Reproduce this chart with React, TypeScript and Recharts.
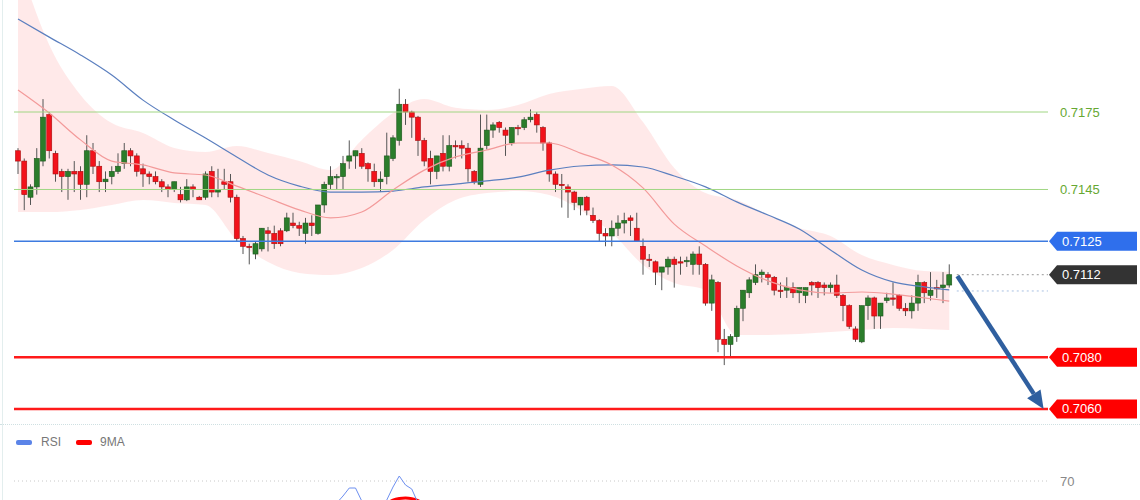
import React from "react";
import { ComposedChart, Bar, Line, Area, XAxis, YAxis, ReferenceLine } from "recharts";

// candles, oldest first
const opens = [
  0.7160, 0.7156, 0.7142, 0.7146, 0.7156, 0.7174, 0.7159, 0.7152, 0.7150, 0.7152,
  0.7152, 0.7147, 0.7160, 0.7154, 0.7148, 0.7150, 0.7152, 0.7155, 0.7160, 0.7158,
  0.7153, 0.7151, 0.7150, 0.7148, 0.7146, 0.7145, 0.7143, 0.7141, 0.7146, 0.7142,
  0.7142, 0.7152, 0.7144, 0.7148, 0.7148, 0.7142, 0.7126, 0.7123, 0.7120, 0.7122,
  0.7129, 0.7128, 0.7129, 0.7129, 0.7132, 0.7131, 0.7128, 0.7132, 0.7128, 0.7139,
  0.7147, 0.71495, 0.7150, 0.7156, 0.7158, 0.7159, 0.7155, 0.7152, 0.7148, 0.7150,
  0.7157, 0.7164, 0.7178, 0.7175, 0.7173, 0.7164, 0.7157, 0.7152, 0.7159, 0.7154,
  0.7162, 0.7162, 0.7161, 0.7152, 0.7147, 0.7162, 0.7168, 0.7171, 0.7168, 0.7163,
  0.7169, 0.7169, 0.7172, 0.7174, 0.7169, 0.7163, 0.7151, 0.7147, 0.7146, 0.7144,
  0.7139, 0.7142, 0.7135, 0.7133, 0.7128, 0.7127, 0.7130, 0.7132, 0.7134, 0.7130,
  0.7123, 0.7118, 0.7117, 0.7113, 0.7115, 0.7118, 0.7117, 0.7117, 0.7116, 0.7120,
  0.7116, 0.7101, 0.7109, 0.7087, 0.7085, 0.7088, 0.7099, 0.7105, 0.7109, 0.7112,
  0.7112, 0.7111, 0.7106, 0.7106, 0.7107, 0.7105, 0.7104, 0.7109, 0.7109, 0.7108,
  0.7107, 0.7108, 0.7104, 0.7100, 0.7091, 0.7086, 0.7100, 0.7103, 0.7096, 0.7102,
  0.7103, 0.7104, 0.7099, 0.7098, 0.7101, 0.7109, 0.7104, 0.7107, 0.7107, 0.7108,
];
const highs = [
  0.7161, 0.7157, 0.7147, 0.7161, 0.7180, 0.7175, 0.7160, 0.7153, 0.7153, 0.7156,
  0.7154, 0.7166, 0.7163, 0.7156, 0.7152, 0.7154, 0.7159, 0.7163, 0.7161, 0.7159,
  0.7155, 0.7152, 0.7152, 0.7149, 0.7147, 0.7148, 0.7146, 0.7149, 0.7147, 0.71425,
  0.7152, 0.7154, 0.7153, 0.7153, 0.7151, 0.7143, 0.7127, 0.7124, 0.7125, 0.7130,
  0.71305, 0.7131, 0.7130, 0.7136, 0.7136, 0.71325, 0.7134, 0.7135, 0.7139, 0.7148,
  0.7154, 0.7151, 0.7158, 0.7164, 0.7160, 0.7161, 0.71555, 0.7155, 0.7152, 0.7167,
  0.7166, 0.7184, 0.7180, 0.71755, 0.71735, 0.7165, 0.7160, 0.7158, 0.7166, 0.7166,
  0.7164, 0.7164, 0.7163, 0.71525, 0.7174, 0.7174, 0.7171, 0.71715, 0.7169, 0.7169,
  0.7170, 0.7173, 0.7176, 0.7175, 0.71695, 0.71635, 0.7152, 0.7151, 0.7147, 0.71445,
  0.7142, 0.71425, 0.7138, 0.71335, 0.7130, 0.7133, 0.7135, 0.7136, 0.7135, 0.7136,
  0.7126, 0.7120, 0.71175, 0.7115, 0.7119, 0.7119, 0.7119, 0.7119, 0.7121, 0.7123,
  0.71165, 0.7112, 0.71095, 0.7091, 0.7089, 0.7100, 0.7106, 0.7111, 0.7116, 0.7114,
  0.7113, 0.71115, 0.7109, 0.7111, 0.7109, 0.7107, 0.7107, 0.71095, 0.71095, 0.7109,
  0.7109, 0.7112, 0.71045, 0.71005, 0.7092, 0.7100, 0.7104, 0.71035, 0.7101, 0.7105,
  0.7109, 0.71045, 0.7101, 0.7104, 0.7112, 0.71095, 0.7113, 0.7110, 0.7113, 0.7116,
];
const lows = [
  0.7151, 0.7137, 0.7139, 0.7143, 0.7154, 0.7157, 0.7148, 0.7144, 0.7141, 0.7144,
  0.7141, 0.7142, 0.7151, 0.7144, 0.7144, 0.7147, 0.7151, 0.7153, 0.7154, 0.7150,
  0.7146, 0.7147, 0.7147, 0.7144, 0.7142, 0.7144, 0.7140, 0.71405, 0.7142, 0.7141,
  0.7141, 0.7142, 0.7142, 0.7145, 0.7140, 0.7125, 0.7120, 0.7116, 0.7118, 0.7121,
  0.7121, 0.7122, 0.7123, 0.71285, 0.7130, 0.7127, 0.7124, 0.7127, 0.71275, 0.7136,
  0.7145, 0.7145, 0.7145, 0.7153, 0.7153, 0.7153, 0.7148, 0.7146, 0.7144, 0.7147,
  0.7156, 0.7162, 0.7170, 0.7165, 0.7158, 0.7154, 0.7147, 0.7149, 0.7152, 0.7152,
  0.7157, 0.7157, 0.7148, 0.7147, 0.7146, 0.71605, 0.7165, 0.7167, 0.7158, 0.7162,
  0.7166, 0.7168, 0.7171, 0.7167, 0.7160, 0.7148, 0.7144, 0.7138, 0.7134, 0.7137,
  0.7135, 0.7135, 0.7132, 0.7125, 0.7123, 0.7123, 0.7127, 0.7128, 0.7127, 0.7125,
  0.7112, 0.7115, 0.7108, 0.7106, 0.7112, 0.7107, 0.7112, 0.7115, 0.7112, 0.7112,
  0.7100, 0.7098, 0.7082, 0.7077, 0.7080, 0.7086, 0.7094, 0.7103, 0.7108, 0.7109,
  0.7108, 0.7104, 0.7103, 0.7103, 0.7103, 0.7101, 0.7101, 0.7104, 0.7103, 0.7104,
  0.7105, 0.7103, 0.7094, 0.7091, 0.7086, 0.70855, 0.70945, 0.7091, 0.7091, 0.7101,
  0.7100, 0.7098, 0.7096, 0.7095, 0.7098, 0.7101, 0.7102, 0.7103, 0.7101, 0.7107,
];
const closes = [
  0.7156, 0.7143, 0.7146, 0.7157, 0.7173, 0.7160, 0.7151, 0.7150, 0.7152, 0.7151,
  0.7147, 0.7160, 0.7154, 0.7148, 0.7149, 0.7152, 0.7154, 0.7160, 0.7158, 0.7152,
  0.7151, 0.7150, 0.7148, 0.7146, 0.7145, 0.7148, 0.7141, 0.7146, 0.7145, 0.7141,
  0.7151, 0.7144, 0.7145, 0.7147, 0.7142, 0.7126, 0.7123, 0.71225, 0.7124, 0.7130,
  0.7128, 0.7124, 0.7124, 0.7134, 0.7131, 0.7130, 0.7132, 0.7131, 0.7139, 0.7147,
  0.7150, 0.7150, 0.7155, 0.7158, 0.7160, 0.7154, 0.7153, 0.7148, 0.7149, 0.7158,
  0.7165, 0.7178, 0.7175, 0.7173, 0.7164, 0.7156, 0.7152, 0.7158, 0.7154, 0.7162,
  0.71615, 0.7161, 0.7153, 0.7148, 0.7161, 0.7168, 0.7170, 0.7169, 0.7166, 0.7169,
  0.71685, 0.7172, 0.7173, 0.7170, 0.7163, 0.7151, 0.7147, 0.71465, 0.7144, 0.7140,
  0.7142, 0.7137, 0.7133, 0.7128, 0.7127, 0.7130, 0.7132, 0.7133, 0.7133, 0.7125,
  0.7118, 0.71175, 0.7113, 0.7115, 0.7118, 0.7116, 0.71165, 0.71175, 0.7120, 0.7116,
  0.7101, 0.7110, 0.7087, 0.7085, 0.7088, 0.7099, 0.7106, 0.7110, 0.7112, 0.7113,
  0.7111, 0.7106, 0.71055, 0.7107, 0.7105, 0.7107, 0.7107, 0.7108, 0.7107, 0.7107,
  0.7108, 0.7104, 0.7100, 0.7092, 0.7087, 0.7100, 0.7103, 0.7096, 0.7101, 0.7103,
  0.71025, 0.7099, 0.7098, 0.7101, 0.7109, 0.7105, 0.7106, 0.71065, 0.7108, 0.7112,
];

// indicator readings, taken every 5 candles
const sampleIdx = [0, 5, 10, 15, 20, 25, 30, 35, 40, 45, 50, 55, 60, 65, 70, 75, 80, 85, 90, 95, 100, 105, 110, 115, 120, 125, 130, 135, 140, 145, 149];
const maSlow = [0.7211, 0.7204, 0.71971, 0.71893, 0.71796, 0.71719, 0.71649, 0.71576, 0.71506, 0.71463, 0.7144, 0.7144, 0.71444, 0.7146, 0.71471, 0.71483, 0.71498, 0.71525, 0.71541, 0.71545, 0.71537, 0.71502, 0.7146, 0.71402, 0.71351, 0.71297, 0.71216, 0.71138, 0.71092, 0.71073, 0.71061];
const maFast = [0.71835, 0.71746, 0.71642, 0.7156, 0.71545, 0.71514, 0.71506, 0.71463, 0.71417, 0.71371, 0.7134, 0.71363, 0.71448, 0.71525, 0.71576, 0.71603, 0.7163, 0.7163, 0.71591, 0.71545, 0.71456, 0.71316, 0.71231, 0.71154, 0.71096, 0.71061, 0.71049, 0.71053, 0.71045, 0.7103, 0.71018];
const bandUpper = [0.72339, 0.72009, 0.71816, 0.71707, 0.71669, 0.71611, 0.71595, 0.71618, 0.71591, 0.7156, 0.71525, 0.71642, 0.71746, 0.718, 0.71766, 0.71758, 0.71777, 0.7182, 0.71839, 0.71851, 0.71711, 0.71533, 0.71436, 0.71409, 0.71351, 0.71301, 0.7127, 0.71196, 0.71158, 0.71134, 0.71131];
const bandLower = [0.71363, 0.71363, 0.71371, 0.7139, 0.71409, 0.71398, 0.7139, 0.71254, 0.71169, 0.71127, 0.71119, 0.71146, 0.71216, 0.71332, 0.71409, 0.71436, 0.71444, 0.71429, 0.71371, 0.71282, 0.71158, 0.71088, 0.71061, 0.70887, 0.70887, 0.7089, 0.70898, 0.70906, 0.70914, 0.7091, 0.70906];

// lower panel (only the top of it is in view)
const rsiIdx = [49, 50, 51, 52, 53, 54, 55, 56, 57, 58, 59, 60, 61, 62, 63, 64, 65, 66];
const rsiVals = [52, 55, 59, 62.5, 66.5, 66.5, 60, 55, 52, 55, 60.5, 67, 72.5, 68, 66, 59, 54, 50];
const rsiMa = [null, null, null, null, null, null, null, null, 54, 56, 58.5, 60.5, 61.3, 61.5, 61.2, 60.2, 58.5, 56];

const levels = { r1: 0.7175, r2: 0.7145, pivot: 0.7125, last: 0.7112, s1: 0.708, s2: 0.706 };
const maLast = 0.71057;

const rows: any[] = opens.map((o, i) => ({
  i, o, h: highs[i], l: lows[i], c: closes[i], range: [lows[i], highs[i]],
}));
sampleIdx.forEach((k, j) => {
  rows[k].ms = maSlow[j];
  rows[k].mf = maFast[j];
  rows[k].band = [bandLower[j], bandUpper[j]];
});
const rsiRows = rsiIdx.map((k, j) => ({ i: k, rsi: rsiVals[j], ma: rsiMa[j] }));

const font = "'Liberation Sans', Arial, sans-serif";
const xDomain = [-0.64, 164.8];

const Candle = (props: any) => {
  const { x, y, width, height, payload } = props;
  if (!payload) return null;
  const { o, c, h, l } = payload;
  const top = Math.min(y, y + height);
  const hh = Math.abs(height);
  const k = hh / (h - l);
  const cx = x + width / 2;
  const b1 = top + (h - Math.max(o, c)) * k;
  const b2 = top + (h - Math.min(o, c)) * k;
  const up = c >= o;
  return (
    <g>
      <line x1={cx} x2={cx} y1={top} y2={top + hh} stroke="#555" strokeWidth={1} />
      <rect x={cx - 2.5} y={b1} width={5} height={Math.max(1, b2 - b1)}
        fill={up ? "#2b7d2b" : "#f2121b"} stroke={up ? "#1c561c" : "#a80d0d"} strokeWidth={0.6} />
    </g>
  );
};

const Tag = (props: any) => {
  const { viewBox, text, fill } = props;
  if (!viewBox) return null;
  const x0 = viewBox.x + viewBox.width;
  const y = viewBox.y;
  const pts = `${x0 + 1},${y} ${x0 + 9},${y - 9.5} 1137,${y - 9.5} 1137,${y + 9.5} ${x0 + 9},${y + 9.5}`;
  return (
    <g>
      <polygon points={pts} fill={fill} />
      <text x={x0 + 14} y={y + 4.5} fill="#fff" fontSize={13} fontFamily={font}>{text}</text>
    </g>
  );
};

const PlainTag = (props: any) => {
  const { viewBox, text, color } = props;
  if (!viewBox) return null;
  return (
    <text x={viewBox.x + viewBox.width + 12} y={viewBox.y + 4.5} fill={color} fontSize={13} fontFamily={font}>{text}</text>
  );
};

const Arrow = (p: any) => {
  let { x1, y1, x2, y2 } = p;
  if (x1 > x2) { [x1, x2] = [x2, x1]; [y1, y2] = [y2, y1]; }
  const a = Math.atan2(y2 - y1, x2 - x1);
  const hl = 18, hw = 8;
  const bx = x2 - hl * Math.cos(a), by = y2 - hl * Math.sin(a);
  const px = -Math.sin(a) * hw, py = Math.cos(a) * hw;
  return (
    <g>
      <line x1={x1} y1={y1} x2={bx} y2={by} stroke="#2f5f9f" strokeWidth={4.5} />
      <polygon points={`${x2},${y2} ${bx + px},${by + py} ${bx - px},${by - py}`} fill="#2f5f9f" />
    </g>
  );
};

const App = () => (
  <div style={{ position: "absolute", left: 0, top: 0, width: 1140, height: 500, overflow: "hidden", background: "#fff", fontFamily: font }}>
    <div style={{ position: "absolute", left: 2, top: 0, width: 1, height: 500, background: "#e3eeee" }} />
    <div style={{ position: "absolute", left: 0, top: 0 }}>
      <ComposedChart width={1140} height={424} data={rows} margin={{ top: 0, right: 92, bottom: 0, left: 14 }}>
        <XAxis dataKey="i" type="number" domain={xDomain} allowDataOverflow hide />
        <YAxis type="number" domain={[0.705419, 0.721837]} allowDataOverflow hide />
        <Area dataKey="band" type="monotone" connectNulls stroke="none" fill="#ffa3a3" fillOpacity={0.24} isAnimationActive={false} />
        <Line dataKey="ms" type="monotone" connectNulls dot={false} stroke="#5b7fbf" strokeWidth={1.2} isAnimationActive={false} />
        <Line dataKey="mf" type="monotone" connectNulls dot={false} stroke="#f39a9a" strokeWidth={1.2} isAnimationActive={false} />
        <ReferenceLine y={levels.r1} stroke="#a0d683" strokeWidth={1} ifOverflow="visible"
          label={(p: any) => <PlainTag {...p} text="0.7175" color="#66a832" />} />
        <ReferenceLine y={levels.r2} stroke="#a0d683" strokeWidth={1} ifOverflow="visible"
          label={(p: any) => <PlainTag {...p} text="0.7145" color="#66a832" />} />
        <ReferenceLine y={levels.pivot} stroke="#3d7be0" strokeWidth={1.5} ifOverflow="visible"
          label={(p: any) => <Tag {...p} text="0.7125" fill="#2f6fec" />} />
        <ReferenceLine y={levels.s1} stroke="#ff1a1a" strokeWidth={2.5} ifOverflow="visible"
          label={(p: any) => <Tag {...p} text="0.7080" fill="#ff0000" />} />
        <ReferenceLine y={levels.s2} stroke="#ff1a1a" strokeWidth={2.5} ifOverflow="visible"
          label={(p: any) => <Tag {...p} text="0.7060" fill="#ff0000" />} />
        <ReferenceLine segment={[{ x: 150.2, y: levels.last }, { x: 164.8, y: levels.last }]} stroke="#999" strokeDasharray="2 3" ifOverflow="visible"
          label={(p: any) => <Tag {...p} text="0.7112" fill="#333333" />} />
        <ReferenceLine segment={[{ x: 150.2, y: maLast }, { x: 164.8, y: maLast }]} stroke="#a9c1e2" strokeDasharray="2 3" ifOverflow="visible" />
        <Bar dataKey="range" shape={Candle} isAnimationActive={false} />
        <ReferenceLine segment={[{ x: 150.3, y: 0.71115 }, { x: 164.1, y: 0.706 }]} ifOverflow="visible" shape={Arrow} />
      </ComposedChart>
    </div>
    <div style={{ position: "absolute", left: 0, top: 424, width: 1140, borderTop: "1px dotted #cfe0e2" }} />
    <div style={{ position: "absolute", left: 0, top: 421 }}>
      <ComposedChart width={1140} height={200} data={rsiRows} margin={{ top: 0, right: 92, bottom: 0, left: 14 }}>
        <XAxis dataKey="i" type="number" domain={xDomain} allowDataOverflow hide />
        <YAxis type="number" domain={[0, 100]} allowDataOverflow hide />
        <ReferenceLine y={70} stroke="#c8c8c8" strokeDasharray="1 3" ifOverflow="visible"
          label={(p: any) => <PlainTag {...p} text="70" color="#888" />} />
        <Line dataKey="ma" type="monotone" dot={false} stroke="#ff0000" strokeWidth={3} isAnimationActive={false} />
        <Line dataKey="rsi" type="linear" dot={false} stroke="#6d8ff0" strokeWidth={1} isAnimationActive={false} />
      </ComposedChart>
    </div>
    <div style={{ position: "absolute", left: 16, top: 440, width: 16, height: 5, borderRadius: 2, background: "#5b84e8" }} />
    <div style={{ position: "absolute", left: 41, top: 435, fontSize: 12, color: "#777", lineHeight: "14px" }}>RSI</div>
    <div style={{ position: "absolute", left: 76, top: 440, width: 16, height: 5, borderRadius: 2, background: "#ff0000" }} />
    <div style={{ position: "absolute", left: 100, top: 435, fontSize: 12, color: "#777", lineHeight: "14px" }}>9MA</div>
  </div>
);

export default App;
